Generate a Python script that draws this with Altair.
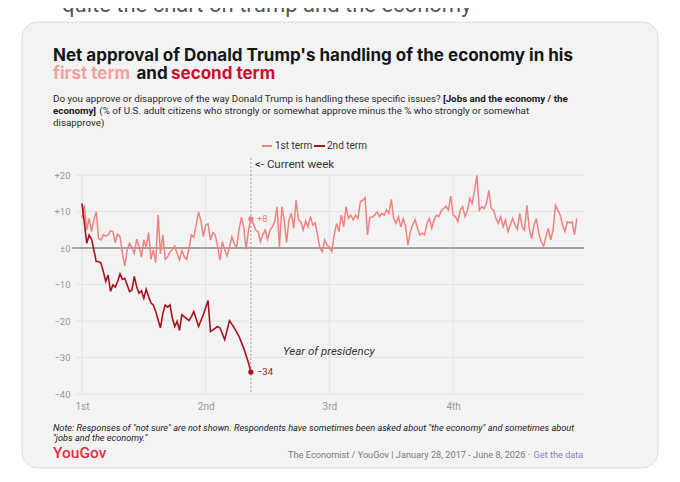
import altair as alt
import pandas as pd

# ---- data (net approval, weekly) ----
term1 = [
    8.1, 11.7, 4.9, 8.1, 4.5, 7.7, 9.9, 2.6, 2.2, 3.6,
    3.3, 3.6, 4.7, 4.5, 1.5, 3.8, 3.1, -1.5, -4.9, -0.5,
    1.3, 0.2, -1.5, 2.4, 0.5, -2.5, 2.2, 0.2, 4.2, -3.1,
    -0.5, -4.0, 9.0, -1.6, 3.6, -3.1, -2.4, -1.0, -0.4, 0.5,
    -1.5, -3.3, -0.7, -2.4, -3.1, -0.1, 3.6, 2.9, 6.3, 9.9,
    7.5, 3.1, 6.3, 6.6, 2.2, 4.2, 3.6, 0.5, -3.3, 1.7,
    -0.4, -2.2, 0.2, 3.1, 1.1, 0.2, 4.9, 8.4, 5.8, -0.4,
    4.9, 8.0,
    6.7, 4.9, 4.5, 1.7, 3.6, 4.9, 2.4, 4.9, 5.8, 7.2,
    11.3, 0.2, 11.3, 7.7, 1.5, 7.7, 9.5, 5.4, 13.1, 7.7,
    7.2, 4.9, 7.5, 5.8, 8.6, 6.3, 6.9, 3.6, -0.1, -1.0,
    2.2, 0.8, 0.2, -1.0, 3.6, 6.7, 4.5, 9.0, 5.8, 11.3,
    8.1, 9.0, 7.7, 9.0, 8.1, 12.7, 13.1, 13.8, 3.6, 8.4,
    8.4, 9.0, 9.9, 8.6, 9.5, 9.0, 10.4, 9.5, 13.3, 8.1,
    6.7, 8.6, 5.8, 8.1, 6.0, 0.8, 4.5, 6.3, 7.8, 5.4,
    3.6, 4.0, 3.6, 6.7, 8.1, 5.4, 7.7, 9.0, 8.6, 10.2,
    10.8, 11.5, 10.4, 14.2, 9.0, 8.6, 7.2, 10.4, 11.3, 8.6,
    10.2, 13.6, 12.2, 15.8, 19.9, 10.4, 11.3, 10.8, 12.2, 15.8,
    10.8, 10.4, 8.1, 6.7, 8.6, 5.8, 7.7, 4.5, 6.3, 8.1,
    6.3, 5.1, 9.5, 5.8, 4.9, 11.7, 5.4, 2.6, 6.3, 8.1,
    4.0, 1.7, 0.4, 3.1, 5.4, 2.2, 4.9, 11.7, 10.4, 9.0,
    6.3, 4.5, 7.2, 6.9, 7.2, 3.6, 8.1,
]
term2_weeks = [
    0, 1, 2, 3, 4, 5, 6, 7, 8, 9,
    10, 11, 12, 13, 14, 15, 16, 17, 18, 19,
    20, 21, 22, 23, 24, 25, 26, 27, 28, 29,
    30, 31, 33, 34, 35, 36, 37, 38, 39, 40,
    41, 42, 43, 45, 46, 47, 49, 51, 53, 54,
    57, 58, 60, 62, 64, 66, 68, 70, 71,
]
term2_vals = [
    12.2, 7.0, 1.3, 3.5, 2.5, -0.5, -3.7, -3.7, -4.2, -6.5,
    -9.2, -7.4, -11.9, -10.1, -10.7, -9.2, -7.1, -8.6, -8.3, -10.1,
    -11.9, -11.5, -7.8, -10.6, -12.4, -11.7, -13.8, -11.3, -13.3, -15.1,
    -15.6, -17.4, -21.9, -17.9, -15.6, -16.2, -15.6, -19.2, -21.5, -20.1,
    -22.6, -18.3, -18.8, -19.9, -18.8, -17.4, -21.5, -18.3, -14.4, -22.9,
    -21.5, -21.9, -25.1, -19.9, -21.9, -24.2, -27.5, -31.5, -34.0,
]
year_labels = ["1st", "2nd", "3rd", "4th"]
year_weeks = [0, 52, 104, 156]
y_ticks = [-40, -30, -20, -10, 0, 10, 20]
current_week = 71
current_vals = [8, -34]
current_labels = ["+8", "\u221234"]
terms = ["1st term", "2nd term"]

PINK = "#f08282"
RED = "#a8111f"
W, H = 508, 219
BODY = "Roboto"
HEAD = "Inter"

df1 = pd.DataFrame({"week": list(range(len(term1))), "net": term1, "term": terms[0]})
df2 = pd.DataFrame({"week": term2_weeks, "net": term2_vals, "term": terms[1]})

xscale = alt.Scale(domain=[-2.5, 211], nice=False, zero=False)
yscale = alt.Scale(domain=[-40, 20], nice=False, zero=False)
cscale = alt.Scale(domain=terms, range=[PINK, RED])

x_label_expr = "[" + ",".join("'%s'" % l for l in year_labels) + "][round(datum.value/52)]"
y_label_expr = ("datum.value > 0 ? '+' + datum.value : "
                "(datum.value == 0 ? '\u00b10' : '\u2212' + abs(datum.value))")

x_axis = alt.Axis(values=year_weeks, labelExpr=x_label_expr, grid=False,
                  domain=False, ticks=False, labelFont=BODY, labelFontSize=10,
                  labelColor="#9a9a9a", labelPadding=7, zindex=1, title=None)
y_axis = alt.Axis(values=y_ticks, labelExpr=y_label_expr, grid=False,
                  domain=False, ticks=False, labelFont=BODY, labelFontSize=9.5,
                  labelColor="#9a9a9a", labelPadding=6, zindex=1, title=None)


def X():
    return alt.X("week:Q", scale=xscale, axis=x_axis)


def Y():
    return alt.Y("net:Q", scale=yscale, axis=y_axis)


def txt(t, x, y, size, color="#222222", weight="normal", style="normal",
        align="left", font=BODY, baseline="alphabetic"):
    return alt.Chart(pd.DataFrame({"t": [t]})).mark_text(
        align=align, baseline=baseline, font=font, fontSize=size,
        fontWeight=weight, fontStyle=style, color=color
    ).encode(x=alt.value(x), y=alt.value(y), text="t:N")


one = pd.DataFrame({"a": [0]})

card = alt.Chart(one).mark_rect(
    cornerRadius=16, fill="#f3f3f3", stroke="#dddddd", strokeWidth=1
).encode(x=alt.value(-54), x2=alt.value(582), y=alt.value(-153), y2=alt.value(293))

hgrid = alt.Chart(pd.DataFrame({"net": y_ticks})).mark_rule(
    color="#e2e2e2", strokeWidth=1
).encode(y=Y(), x=alt.value(0), x2=alt.value(W))

vgrid = alt.Chart(pd.DataFrame({"week": year_weeks})).mark_rule(
    color="#e2e2e2", strokeWidth=1
).encode(x=X(), y=alt.value(0), y2=alt.value(H))

zero = alt.Chart(pd.DataFrame({"net": [0]})).mark_rule(
    color="#5a5a5a", strokeWidth=1.2
).encode(y=Y(), x=alt.value(-4), x2=alt.value(W))

cur = alt.Chart(pd.DataFrame({"week": [current_week]})).mark_rule(
    color="#9a9a9a", strokeWidth=1, strokeDash=[2, 2]
).encode(x=X(), y=alt.value(-17), y2=alt.value(H))

line1 = alt.Chart(df1).mark_line(strokeWidth=1.5, color=PINK).encode(x=X(), y=Y())
line2 = alt.Chart(df2).mark_line(strokeWidth=1.6, color=RED).encode(x=X(), y=Y())

ptdf = pd.DataFrame({"week": [current_week, current_week], "net": current_vals,
                     "term": terms, "label": current_labels})
dots = alt.Chart(ptdf).mark_circle(size=28, opacity=1).encode(
    x=X(), y=Y(), color=alt.Color("term:N", scale=cscale, legend=None),
)
plabels = alt.Chart(ptdf).mark_text(align="left", dx=6, font=BODY, fontSize=9.5).encode(
    x=X(), y=Y(), color=alt.Color("term:N", scale=cscale, legend=None), text="label:N",
)

leg1 = alt.Chart(one).mark_rule(color=PINK, strokeWidth=2).encode(
    x=alt.value(186), x2=alt.value(196), y=alt.value(-29))
leg2 = alt.Chart(one).mark_rule(color=RED, strokeWidth=2).encode(
    x=alt.value(238), x2=alt.value(249), y=alt.value(-29))

texts = [
    txt("quite the chart on trump and the economy", -14, -163, 22, color="#555555"),
    txt("Net approval of Donald Trump's handling of the economy in his", -23, -114,
        17, color="#151515", weight="bold", font=HEAD),
    txt("first term", -23, -96, 17, color="#f4a0a0", weight="bold", font=HEAD),
    txt("and", 60.5, -96, 17, color="#151515", weight="bold", font=HEAD),
    txt("second term", 95, -96, 17, color="#c8102e", weight="bold", font=HEAD),
    txt("Do you approve or disapprove of the way Donald Trump is handling these specific issues?",
        -23, -73, 9.8, color="#2a2a2a"),
    txt("[Jobs and the economy / the", 367, -73, 9.8, color="#1a1a1a", weight="bold"),
    txt("economy]", -23, -61, 9.8, color="#1a1a1a", weight="bold"),
    txt("(% of U.S. adult citizens who strongly or somewhat approve minus the % who strongly or somewhat",
        23.3, -61, 9.8, color="#2a2a2a"),
    txt("disapprove)", -23, -49.5, 9.8, color="#2a2a2a"),
    txt("1st term", 199, -29, 10, color="#333333", baseline="middle"),
    txt("2nd term", 251, -29, 10, color="#333333", baseline="middle"),
    txt("<- Current week", 179, -7, 11.5, color="#333333"),
    txt("Year of presidency", 207, 180, 11.5, color="#333333", style="italic"),
    txt("Note: Responses of \"not sure\" are not shown. Respondents have sometimes been asked about \"the economy\" and sometimes about",
        -23, 256, 9.2, color="#222222", style="italic"),
    txt("\"jobs and the economy.\"", -23, 265.7, 9.2, color="#222222", style="italic"),
    txt("YouGov", -23, 283, 15.5, color="#e3303b", weight=500),
    txt("The Economist / YouGov | January 28, 2017 - June 8, 2026 \u00b7", 454, 283, 9.2,
        color="#7a7a7a", align="right"),
    txt("Get the data", 457.5, 283, 9.2, color="#8a80c4"),
]

chart = alt.layer(
    card, hgrid, vgrid, zero, cur, line1, line2, dots, plabels, leg1, leg2, *texts
).properties(
    width=W, height=H,
    autosize=alt.AutoSizeParams(type="none"),
    padding={"left": 68, "top": 167, "right": 88, "bottom": 76},
).configure(background="#ffffff").configure_view(strokeWidth=0)

chart.save("out.html", embed_options={"renderer": "svg", "actions": False})
